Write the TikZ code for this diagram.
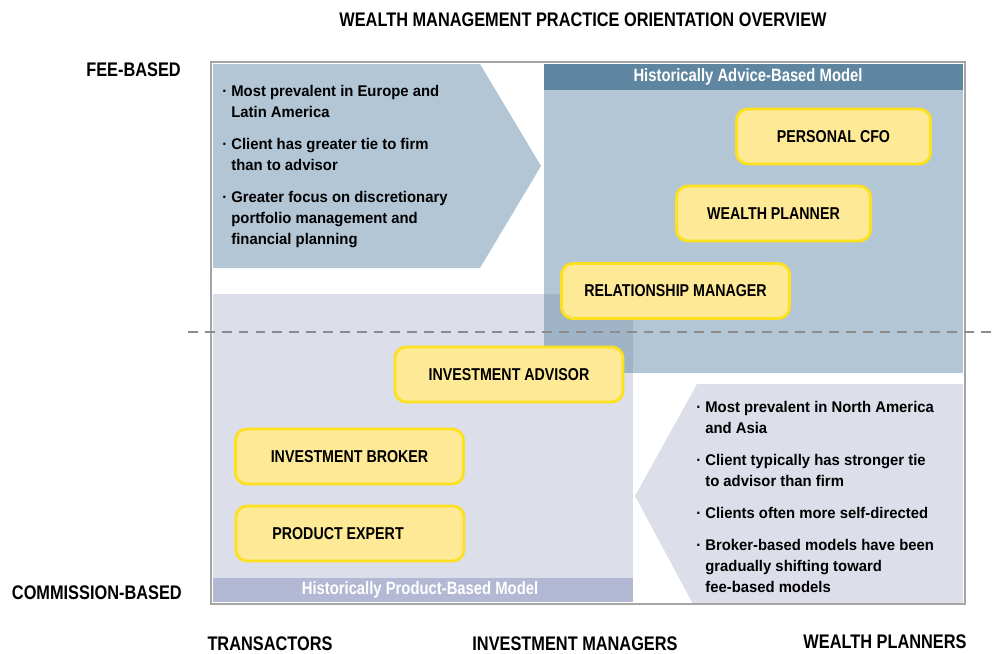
\documentclass[tikz,border=0pt]{standalone}
\usepackage{fontspec}
\setmainfont{Liberation Sans}[FakeStretch=0.83]
\newfontfamily\notefont{Liberation Sans}[FakeStretch=0.96]
\usetikzlibrary{positioning}
\definecolor{advblue}{RGB}{179,198,214}
\definecolor{advhead}{RGB}{94,134,160}
\definecolor{prodlav}{RGB}{220,222,234}
\definecolor{prodhead}{RGB}{179,184,212}
\definecolor{mixblue}{RGB}{160,180,200}
\definecolor{rolefill}{RGB}{253,233,150}
\definecolor{roleedge}{RGB}{253,224,30}
\definecolor{framegray}{RGB}{165,165,165}
\definecolor{dashgray}{RGB}{140,140,140}
\tikzset{
  role/.style={draw=roleedge, fill=rolefill, line width=2pt, rounded corners=8pt,
    minimum height=1.375cm, minimum width=5.7cm,
    font=\bfseries\fontsize{12.2}{14}\selectfont},
  shortrole/.style={role, minimum width=4.85cm},
  axislabel/.style={font=\bfseries\fontsize{14}{16}\selectfont},
  note/.style={align=left, anchor=north west, inner sep=0pt,
    font=\notefont\bfseries\fontsize{11}{14.9}\selectfont},
  bandlabel/.style={text=white, font=\bfseries\fontsize{12.7}{14}\selectfont}
}
\newcommand{\gapline}{\\[7.8pt]}
\newcommand{\ind}{\hphantom{\textperiodcentered\ }}
\begin{document}
\begin{tikzpicture}[x=0.025cm, y=-0.025cm]
  \useasboundingbox (0,0) rectangle (992,653);
  % panels
  \fill[advblue] (213,64) -- (480,64) -- (541,166) -- (480,268) -- (213,268) -- cycle;
  \fill[advblue] (544,64) rectangle (963,373);
  \fill[prodlav] (213,294) rectangle (633,602);
  \fill[mixblue] (544,294) rectangle (633,373);
  \fill[prodlav] (963,384) -- (697,384) -- (635,496) -- (693,604) -- (963,604) -- cycle;
  \fill[advhead] (544,64) rectangle (963,90);
  \fill[prodhead] (213,578) rectangle (633,602);
  \draw[framegray, line width=1.8pt] (211,62) rectangle (965,604);
  \draw[dashgray, line width=1.5pt, dash pattern=on 7pt off 5pt] (188,332) -- (992,332);
  % band titles
  \node[bandlabel] (advtitle) at (748,77) {Historically Advice-Based Model};
  \node[bandlabel] (prodtitle) at (420,590) {Historically Product-Based Model};
  % roles
  \node[shortrole] (cfo) at (833.5,136.5) {PERSONAL CFO};
  \node[shortrole] (planner) at (773.5,213.5) {WEALTH PLANNER};
  \node[role] (relmgr) at (675.5,291) {RELATIONSHIP MANAGER};
  \node[role] (advisor) at (509,374.5) {INVESTMENT ADVISOR};
  \node[role] (broker) at (349.5,456.5) {INVESTMENT BROKER};
  \node[role] (expert) at (350,533.5) {PRODUCT EXPERT\kern17pt};
  % notes
  \node[note] (feenotes) at (222,85) {%
    \textperiodcentered\ Most prevalent in Europe and\\ \ind Latin America\gapline
    \textperiodcentered\ Client has greater tie to firm\\ \ind than to advisor\gapline
    \textperiodcentered\ Greater focus on discretionary\\ \ind portfolio management and\\ \ind financial planning};
  \node[note] (comnotes) at (696,401) {%
    \textperiodcentered\ Most prevalent in North America\\ \ind and Asia\gapline
    \textperiodcentered\ Client typically has stronger tie\\ \ind to advisor than firm\gapline
    \textperiodcentered\ Clients often more self-directed\gapline
    \textperiodcentered\ Broker-based models have been\\ \ind gradually shifting toward\\ \ind fee-based models};
  % axes
  \node[axislabel] (title) at (583,20) {WEALTH MANAGEMENT PRACTICE ORIENTATION OVERVIEW};
  \node[axislabel, anchor=east, inner sep=0pt] (fee) at (181,70) {FEE-BASED};
  \node[axislabel, anchor=east, inner sep=0pt] (commission) at (182,593) {COMMISSION-BASED};
  \node[axislabel] (transactors) at (270,644) {TRANSACTORS};
  \node[axislabel] (managers) at (575,644) {INVESTMENT MANAGERS};
  \node[axislabel] (planners) at (885,642) {WEALTH PLANNERS};
\end{tikzpicture}
\end{document}
